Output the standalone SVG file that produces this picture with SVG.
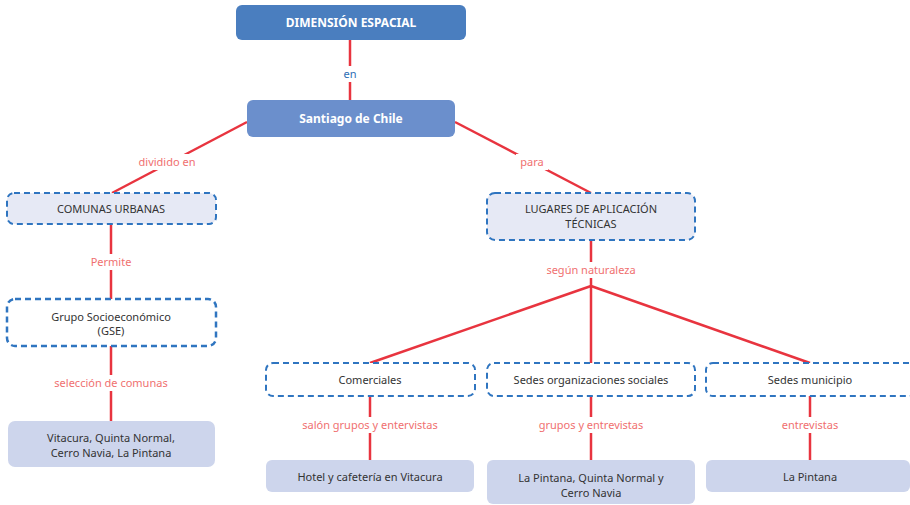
<svg xmlns="http://www.w3.org/2000/svg" width="910" height="505" viewBox="0 0 910 505">
<style>
text{font-family:"Noto Sans","Open Sans",sans-serif;text-anchor:middle;}
.t{font-size:11px;fill:#333;}
.w{font-size:12px;fill:#fff;font-weight:bold;}
.l{font-size:11px;fill:#f07070;}
.c{stroke:#e8343f;stroke-width:2.5;fill:none;}
.lb{fill:#fff;}
.d{stroke:#2f75c0;stroke-width:2;stroke-dasharray:6 4;}
.s1{fill:#e6e9f5;}
.s2{fill:#fff;}
.f{fill:#cdd5ec;}
</style>
<rect width="910" height="505" fill="#fff"/>
<g id="connectors">
<line class="c" x1="350" y1="40" x2="350" y2="100"/>
<line class="c" x1="247" y1="122" x2="112" y2="193"/>
<line class="c" x1="455" y1="122" x2="591" y2="193"/>
<line class="c" x1="111" y1="224" x2="111" y2="299"/>
<line class="c" x1="111" y1="346" x2="111" y2="421"/>
<line class="c" x1="591" y1="240" x2="591" y2="286"/>
<line class="c" x1="591" y1="286" x2="370" y2="363"/>
<line class="c" x1="591" y1="286" x2="591" y2="363"/>
<line class="c" x1="591" y1="286" x2="810" y2="363"/>
<line class="c" x1="370" y1="396" x2="370" y2="460"/>
<line class="c" x1="591" y1="396" x2="591" y2="460"/>
<line class="c" x1="810" y1="396" x2="810" y2="460"/>
<rect class="lb" x="338" y="66" width="24" height="16"/>
<text x="350" y="78" style="font-size:11px;fill:#2e6fb5">en</text>
<rect class="lb" x="134" y="154" width="66" height="16"/>
<text class="l" x="167" y="166">dividido en</text>
<rect class="lb" x="516" y="154" width="32" height="16"/>
<text class="l" x="532" y="166">para</text>
<rect class="lb" x="88" y="254" width="46" height="16"/>
<text class="l" x="111" y="266">Permite</text>
<rect class="lb" x="52" y="375" width="118" height="16"/>
<text class="l" x="111" y="387">selección de comunas</text>
<rect class="lb" x="544" y="262" width="94" height="16"/>
<text class="l" x="591" y="274">según naturaleza</text>
<rect class="lb" x="302" y="417" width="136" height="16"/>
<text class="l" x="370" y="429">salón grupos y entervistas</text>
<rect class="lb" x="538" y="417" width="106" height="16"/>
<text class="l" x="591" y="429">grupos y entrevistas</text>
<rect class="lb" x="780" y="417" width="60" height="16"/>
<text class="l" x="810" y="429">entrevistas</text>
</g>
<g id="dimension">
<rect x="236" y="5" width="230" height="35" rx="6" fill="#4a7ebf"/>
<text class="w" x="351" y="27">DIMENSIÓN ESPACIAL</text>
</g>
<g id="santiago">
<rect x="247" y="100" width="208" height="37" rx="6" fill="#6b8fcc"/>
<text class="w" x="351" y="123">Santiago de Chile</text>
</g>
<g id="comunas">
<rect class="s1 d" x="7" y="193" width="209" height="31" rx="7"/>
<text class="t" x="111" y="213">COMUNAS URBANAS</text>
</g>
<g id="gse">
<rect class="s2 d" x="7" y="299" width="209" height="47" rx="8" style="stroke-width:2.5"/>
<text class="t" x="111" y="321">Grupo Socioeconómico</text>
<text class="t" x="111" y="335">(GSE)</text>
</g>
<g id="vitacura">
<rect class="f" x="8" y="421" width="207" height="46" rx="7"/>
<text class="t" x="111" y="442">Vitacura, Quinta Normal,</text>
<text class="t" x="111" y="457">Cerro Navia, La Pintana</text>
</g>
<g id="lugares">
<rect class="s1 d" x="487" y="193" width="208" height="47" rx="8"/>
<text class="t" x="591" y="213">LUGARES DE APLICACIÓN</text>
<text class="t" x="591" y="228">TÉCNICAS</text>
</g>
<g id="comerciales">
<rect class="s2 d" x="266" y="363" width="209" height="33" rx="7"/>
<text class="t" x="370" y="384">Comerciales</text>
</g>
<g id="sedes-org">
<rect class="s2 d" x="487" y="363" width="208" height="33" rx="7"/>
<text class="t" x="591" y="384">Sedes organizaciones sociales</text>
</g>
<g id="sedes-mun">
<rect class="s2 d" x="706" y="363" width="210" height="33" rx="7"/>
<text class="t" x="810" y="384">Sedes municipio</text>
</g>
<g id="hotel">
<rect class="f" x="266" y="460" width="208" height="32" rx="6"/>
<text class="t" x="370" y="481">Hotel y cafetería en Vitacura</text>
</g>
<g id="lapintana-qn">
<rect class="f" x="487" y="460" width="208" height="44" rx="6"/>
<text class="t" x="591" y="482">La Pintana, Quinta Normal y</text>
<text class="t" x="591" y="497">Cerro Navia</text>
</g>
<g id="lapintana">
<rect class="f" x="706" y="460" width="204" height="32" rx="6"/>
<text class="t" x="810" y="481">La Pintana</text>
</g>
</svg>
